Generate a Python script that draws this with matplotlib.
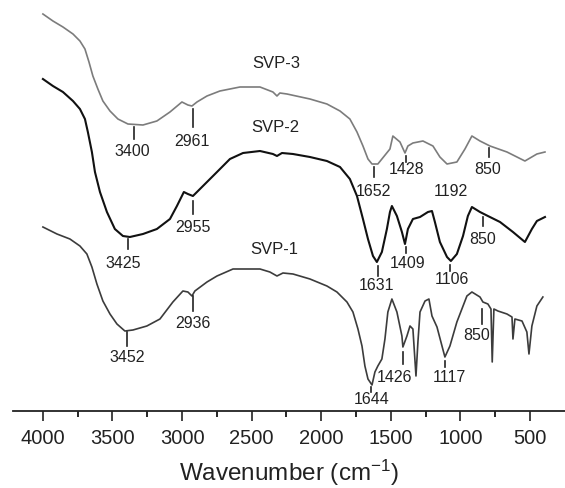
import matplotlib
matplotlib.use("Agg")
import matplotlib.pyplot as plt

plt.rcParams["font.family"] = ["Liberation Sans", "DejaVu Sans"]
plt.rcParams["mathtext.fontset"] = "custom"
plt.rcParams["mathtext.rm"] = "Liberation Sans"
plt.rcParams["mathtext.it"] = "Liberation Sans:italic"

# FTIR spectra (wavenumber in cm-1, transmittance in arbitrary units, offset per sample)
svp3_wn = [4000, 3928, 3856, 3784, 3734, 3698, 3669, 3641, 3605, 3569, 3518, 3461, 3389, 3281,
           3181, 3087, 3001, 2958, 2929, 2893, 2821, 2728, 2584, 2440, 2347, 2318, 2297, 2246,
           2081, 1959, 1865, 1794, 1743, 1700, 1664, 1635, 1593, 1564, 1506, 1485, 1434, 1398,
           1377, 1341, 1269, 1197, 1147, 1096, 1025, 967, 917, 859, 787, 665, 536, 450, 392]
svp3_t = [397, 390, 384, 377, 370, 362, 349, 335, 322, 310, 300, 292, 287, 286,
          290, 299, 309, 306, 305, 309, 315, 320, 324, 324, 319, 315, 318, 317,
          312, 307, 300, 292, 279, 265, 252, 247, 247, 252, 262, 275, 269, 258,
          265, 268, 270, 265, 254, 247, 249, 262, 275, 270, 265, 259, 250, 257, 259]

svp2_wn = [4000, 3928, 3856, 3784, 3734, 3698, 3677, 3648, 3626, 3590, 3540, 3483, 3425, 3375,
           3281, 3181, 3087, 3037, 2987, 2958, 2922, 2893, 2821, 2749, 2656, 2562, 2440, 2347,
           2318, 2282, 2203, 2081, 1959, 1865, 1794, 1743, 1700, 1664, 1628, 1600, 1564, 1528,
           1506, 1492, 1456, 1420, 1398, 1377, 1341, 1290, 1233, 1204, 1183, 1147, 1096, 1068,
           1025, 981, 946, 917, 859, 802, 715, 622, 536, 486, 450, 392]
svp2_t = [332, 325, 319, 310, 302, 292, 279, 259, 239, 219, 199, 182, 175, 174,
          177, 182, 192, 205, 219, 217, 215, 219, 229, 239, 252, 258, 260, 257,
          255, 258, 257, 254, 250, 244, 232, 215, 192, 172, 155, 149, 159, 182,
          199, 205, 195, 179, 167, 182, 192, 194, 199, 200, 189, 169, 154, 150,
          157, 175, 195, 204, 199, 195, 189, 179, 169, 182, 190, 194]

svp1_wn = [4000, 3899, 3806, 3734, 3684, 3648, 3612, 3569, 3518, 3468, 3411, 3353, 3253, 3159,
           3066, 2994, 2958, 2929, 2908, 2821, 2749, 2634, 2512, 2440, 2369, 2318, 2275, 2203,
           2081, 1959, 1887, 1815, 1772, 1736, 1707, 1686, 1664, 1635, 1614, 1593, 1564, 1542,
           1521, 1492, 1456, 1420, 1413, 1384, 1362, 1341, 1319, 1305, 1290, 1254, 1226, 1204,
           1168, 1132, 1111, 1075, 1025, 989, 953, 917, 859, 838, 802, 780, 771, 759, 730, 665,
           629, 622, 608, 557, 522, 507, 486, 450, 407]
svp1_t = [184, 177, 172, 165, 157, 144, 127, 110, 97, 87, 80, 81, 85, 92,
          109, 120, 119, 115, 120, 129, 135, 142, 142, 142, 139, 135, 138, 137,
          132, 125, 119, 109, 99, 82, 65, 45, 32, 26, 39, 45, 52, 72,
          99, 112, 99, 75, 64, 75, 85, 82, 35, 69, 99, 110, 112, 95,
          84, 65, 54, 65, 89, 102, 115, 119, 114, 109, 107, 102, 49, 102, 100, 97,
          94, 72, 92, 90, 79, 57, 85, 105, 114]

series_names = ["SVP-3", "SVP-2", "SVP-1"]

# peak labels: text, tick position, tick top, tick bottom, text x, text y
svp3_peaks = [("3400", 3346, 284, 272, 3360, 261), ("2961", 2922, 302, 284, 2929, 271),
              ("1652", 1621, 244, 234, 1628, 221), ("1428", 1391, 255, 249, 1384, 243),
              ("1192", None, None, None, 1068, 221), ("850", 795, 263, 254, 802, 243)]
svp2_peaks = [("3425", 3389, 172, 162, 3425, 149), ("2955", 2922, 210, 197, 2922, 184),
              ("1631", 1592, 145, 135, 1600, 126), ("1409", 1391, 164, 158, 1377, 149),
              ("1106", 1075, 146, 140, 1061, 133), ("850", 838, 194, 185, 838, 173)]
svp1_peaks = [("3452", 3396, 79, 65, 3396, 55), ("2936", 2922, 115, 100, 2922, 89),
              ("1644", 1643, 24, 19, 1635, 12), ("1426", 1413, 59, 47, 1470, 34),
              ("1117", 1111, 50, 44, 1082, 34), ("850", 845, 102, 87, 881, 77)]

name_pos = [(2325, 349), (2333, 284), (2340, 162)]

fig = plt.figure(figsize=(5.65, 4.89), dpi=100)
ax = fig.add_axes([13 / 565, 77 / 489, 552 / 565, 412 / 489])

ax.plot(svp3_wn, svp3_t, color="#7c7c7c", lw=1.2)
ax.plot(svp2_wn, svp2_t, color="#111111", lw=1.5)
ax.plot(svp1_wn, svp1_t, color="#3c3c3c", lw=1.2)

for peaks in [svp3_peaks, svp2_peaks, svp1_peaks]:
    for lab, tx, top, bot, lx, ly in peaks:
        if tx is not None:
            ax.plot([tx, tx], [bot, top], color="#222222", lw=1.2)
        ax.text(lx, ly, lab, ha="center", va="center", fontsize=11.5, color="#222222")

for name, (nx, ny) in zip(series_names, name_pos):
    ax.text(nx, ny, name, ha="center", va="center", fontsize=12, color="#222222")

ax.set_xlim(4215, 248)
ax.set_ylim(0, 412)
ax.set_xticks([4000, 3500, 3000, 2500, 2000, 1500, 1000, 500])
ax.set_xticks([3750, 3250, 2750, 2250, 1750, 1250, 750], minor=True)
ax.tick_params(axis="x", which="major", length=7, width=1.2, labelsize=14.5, pad=5,
               colors="#222222")
ax.tick_params(axis="x", which="minor", length=4, width=1.2)
ax.set_yticks([])
for side in ["top", "right", "left"]:
    ax.spines[side].set_visible(False)
ax.spines["bottom"].set_linewidth(1.3)
ax.spines["bottom"].set_color("#222222")
ax.set_xlabel(r"Wavenumber (cm$^{-1}$)", fontsize=17.5, labelpad=7, color="#222222")

fig.savefig("out.png", dpi=100)
